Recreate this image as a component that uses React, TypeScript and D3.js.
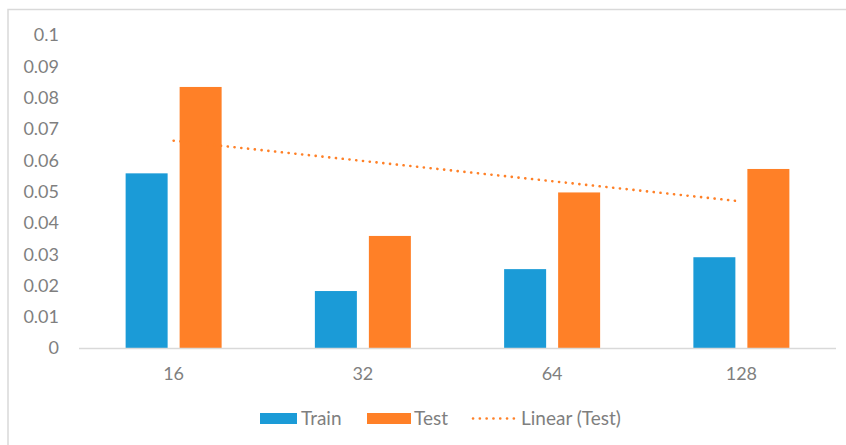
import React from "react";
import * as d3 from "d3";

const categories = ["16", "32", "64", "128"];
const trainValues = [0.0558, 0.0182, 0.0252, 0.029];
const testValues = [0.0834, 0.0358, 0.0497, 0.0572];
const yTicks = [0, 0.01, 0.02, 0.03, 0.04, 0.05, 0.06, 0.07, 0.08, 0.09, 0.1];
const yTickLabels = ["0", "0.01", "0.02", "0.03", "0.04", "0.05", "0.06", "0.07", "0.08", "0.09", "0.1"];
const legendLabels = ["Train", "Test", "Linear (Test)"];

const W = 846;
const H = 445;
const TRAIN = "#1B9BD7";
const TEST = "#FF8027";
const FONT = "Lato, 'Open Sans', sans-serif";
const TXT = "#7F7F7F";

export default function App() {
  const x = d3.scaleBand().domain(categories).range([79, 836]);
  const y = d3.scaleLinear().domain([0, 0.1]).range([348, 35]);
  const barW = 42;
  const gap = 12;

  // linear regression on test values with x = 1..n
  const xs = testValues.map((_, i) => i + 1);
  const mx = d3.mean(xs) as number;
  const my = d3.mean(testValues) as number;
  const slope =
    d3.sum(xs.map((xi, i) => (xi - mx) * (testValues[i] - my))) /
    d3.sum(xs.map((xi) => (xi - mx) ** 2));
  const intercept = my - slope * mx;
  const trendPts: [number, number][] = categories.map((c, i) => [
    (x(c) as number) + x.bandwidth() / 2,
    y(intercept + slope * (i + 1)),
  ]);
  const trendLine = d3.line()([trendPts[0], trendPts[trendPts.length - 1]]) as string;

  return (
    <svg
      width={W}
      height={H}
      style={{ position: "absolute", left: 0, top: 0, background: "#fff" }}
      fontFamily={FONT}
    >
      <rect x={8} y={9.5} width={W} height={H} fill="#fff" stroke="#D9D9D9" strokeWidth={1.5} />

      {yTicks.map((t, i) => (
        <text key={t} x={59} y={y(t)} dy="0.36em" textAnchor="end" fontSize={18} fill={TXT}>
          {yTickLabels[i]}
        </text>
      ))}

      {categories.map((c, i) => {
        const cx = (x(c) as number) + x.bandwidth() / 2;
        return (
          <g key={c}>
            <rect
              x={cx - gap / 2 - barW}
              y={y(trainValues[i])}
              width={barW}
              height={y(0) - y(trainValues[i])}
              fill={TRAIN}
            />
            <rect
              x={cx + gap / 2}
              y={y(testValues[i])}
              width={barW}
              height={y(0) - y(testValues[i])}
              fill={TEST}
            />
            <text x={cx} y={380} textAnchor="middle" fontSize={18} fill={TXT}>
              {c}
            </text>
          </g>
        );
      })}

      <line x1={79} x2={836} y1={y(0) + 0.5} y2={y(0) + 0.5} stroke="#D9D9D9" strokeWidth={1.5} />

      <path
        d={trendLine}
        fill="none"
        stroke={TEST}
        strokeWidth={2.6}
        strokeLinecap="round"
        strokeDasharray="0.1 6.7"
      />

      <g fontSize={19} fill={TXT}>
        <rect x={260} y={413} width={37} height={11} fill={TRAIN} />
        <text x={301} y={425}>{legendLabels[0]}</text>
        <rect x={367} y={413} width={44} height={11} fill={TEST} />
        <text x={414} y={425}>{legendLabels[1]}</text>
        <line
          x1={473}
          x2={516}
          y1={418.5}
          y2={418.5}
          stroke={TEST}
          strokeWidth={2.6}
          strokeLinecap="round"
          strokeDasharray="0.1 6.7"
        />
        <text x={521} y={425}>{legendLabels[2]}</text>
      </g>
    </svg>
  );
}
